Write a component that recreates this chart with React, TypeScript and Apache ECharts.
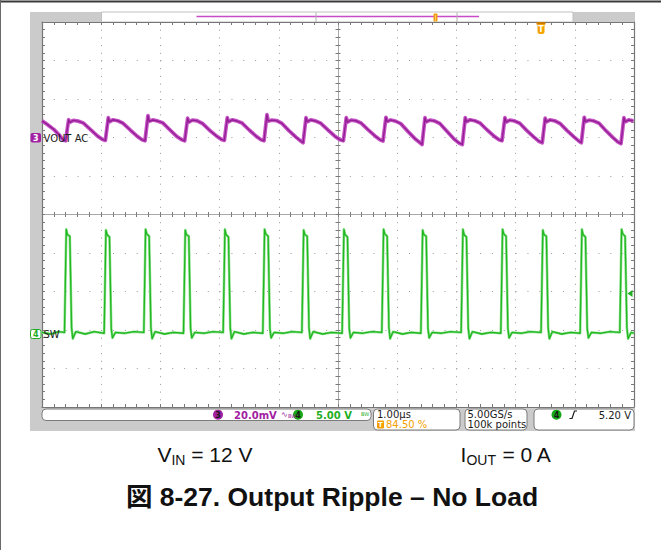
import React, { useEffect, useRef } from "react";
import * as echarts from "echarts";

// ---- Channel 4 (SW node), [time µs from screen centre, volts] ----
const ch4Sw: [number, number][] = [
  [-5.0, 0.2], [-4.85, 0.0], [-4.72, 0.3],
  [-4.62, 0.2], [-4.59, 13.6], [-4.57, 12.9], [-4.53, 12.7], [-4.5, 0.8], [-4.48, -0.6], [-4.43, 0.3], [-4.27, 0.0], [-4.12, 0.3],
  [-3.95, 0.1], [-3.92, 13.5], [-3.9, 12.9], [-3.86, 12.6], [-3.83, 0.7], [-3.81, -0.5], [-3.76, 0.2], [-3.6, 0.1], [-3.45, 0.3],
  [-3.28, 0.2], [-3.25, 13.6], [-3.23, 13.0], [-3.19, 12.7], [-3.16, 0.8], [-3.14, -0.6], [-3.09, 0.3], [-2.93, 0.0], [-2.78, 0.2],
  [-2.61, 0.1], [-2.58, 13.5], [-2.56, 12.9], [-2.52, 12.7], [-2.49, 0.7], [-2.47, -0.5], [-2.42, 0.2], [-2.26, 0.1], [-2.11, 0.3],
  [-1.94, 0.2], [-1.91, 13.6], [-1.89, 12.9], [-1.85, 12.6], [-1.82, 0.8], [-1.8, -0.6], [-1.75, 0.3], [-1.59, 0.0], [-1.44, 0.2],
  [-1.27, 0.1], [-1.24, 13.6], [-1.22, 13.0], [-1.18, 12.7], [-1.15, 0.7], [-1.13, -0.5], [-1.08, 0.2], [-0.92, 0.1], [-0.77, 0.3],
  [-0.61, 0.2], [-0.58, 13.5], [-0.56, 12.9], [-0.52, 12.7], [-0.49, 0.8], [-0.47, -0.6], [-0.42, 0.3], [-0.26, 0.0], [-0.11, 0.2],
  [0.07, 0.1], [0.1, 13.6], [0.12, 12.9], [0.16, 12.6], [0.19, 0.7], [0.21, -0.5], [0.26, 0.2], [0.42, 0.1], [0.57, 0.3],
  [0.74, 0.2], [0.77, 13.6], [0.79, 13.0], [0.83, 12.7], [0.86, 0.8], [0.88, -0.6], [0.93, 0.3], [1.09, 0.0], [1.24, 0.2],
  [1.4, 0.1], [1.43, 13.5], [1.45, 12.9], [1.49, 12.7], [1.52, 0.7], [1.54, -0.5], [1.59, 0.2], [1.75, 0.1], [1.9, 0.3],
  [2.08, 0.2], [2.11, 13.6], [2.13, 12.9], [2.17, 12.6], [2.2, 0.8], [2.22, -0.6], [2.27, 0.3], [2.43, 0.0], [2.58, 0.2],
  [2.75, 0.1], [2.78, 13.6], [2.8, 13.0], [2.84, 12.7], [2.87, 0.7], [2.89, -0.5], [2.94, 0.2], [3.1, 0.1], [3.25, 0.3],
  [3.43, 0.2], [3.46, 13.5], [3.48, 12.9], [3.52, 12.7], [3.55, 0.8], [3.57, -0.6], [3.62, 0.3], [3.78, 0.0], [3.93, 0.2],
  [4.09, 0.1], [4.12, 13.6], [4.14, 12.9], [4.18, 12.6], [4.21, 0.7], [4.23, -0.5], [4.28, 0.2], [4.44, 0.1], [4.59, 0.3],
  [4.76, 0.2], [4.79, 13.6], [4.81, 13.0], [4.85, 12.7], [4.88, 0.8], [4.9, -0.6], [4.95, 0.2], [5.0, 0.1],
];

// ---- Channel 3 (VOUT AC), [time µs from screen centre, millivolts] ----
const ch3VoutAc: [number, number][] = [
  [-5.0, 8.6], [-4.93, 7.2], [-4.8, 4.2], [-4.7, 1.0], [-4.64, -1.4],
  [-4.6, -1.7], [-4.575, 4.0], [-4.55, 9.2], [-4.53, 7.9], [-4.47, 8.9], [-4.39, 8.5], [-4.3, 7.5], [-4.18, 4.1], [-4.06, 0.7], [-3.98, -1.0],
  [-3.93, -1.5], [-3.905, 4.4], [-3.88, 10.3], [-3.86, 8.2], [-3.8, 9.2], [-3.72, 8.7], [-3.63, 7.4], [-3.51, 3.9], [-3.39, 0.6], [-3.31, -1.2],
  [-3.26, -1.7], [-3.235, 4.8], [-3.21, 11.3], [-3.19, 8.4], [-3.13, 9.1], [-3.05, 8.6], [-2.96, 7.6], [-2.84, 4.0], [-2.72, 0.5], [-2.64, -1.1],
  [-2.59, -1.7], [-2.565, 4.2], [-2.54, 10.0], [-2.52, 8.0], [-2.46, 9.0], [-2.38, 8.7], [-2.29, 7.3], [-2.17, 3.8], [-2.05, 0.7], [-1.97, -1.0],
  [-1.92, -1.5], [-1.895, 4.4], [-1.87, 10.3], [-1.85, 8.1], [-1.79, 9.2], [-1.71, 8.6], [-1.62, 7.5], [-1.5, 3.9], [-1.38, 0.6], [-1.3, -1.2],
  [-1.25, -1.7], [-1.225, 5.0], [-1.2, 11.9], [-1.18, 8.5], [-1.12, 9.0], [-1.04, 8.8], [-0.95, 7.4], [-0.83, 3.6], [-0.71, 0.2], [-0.63, -1.8],
  [-0.59, -2.7], [-0.565, 3.8], [-0.54, 10.3], [-0.52, 8.2], [-0.46, 9.1], [-0.38, 8.6], [-0.29, 7.4], [-0.17, 3.9], [-0.05, 0.6], [0.03, -1.1],
  [0.09, -1.7], [0.115, 4.3], [0.14, 10.3], [0.16, 8.0], [0.22, 9.0], [0.3, 8.7], [0.39, 7.5], [0.51, 4.0], [0.63, 0.7], [0.71, -1.2],
  [0.76, -1.8], [0.785, 4.4], [0.81, 10.5], [0.83, 8.3], [0.89, 9.1], [0.97, 8.5], [1.06, 7.2], [1.18, 3.2], [1.3, -0.6], [1.38, -2.6],
  [1.42, -3.6], [1.445, 3.4], [1.47, 10.3], [1.49, 8.1], [1.55, 9.0], [1.63, 8.6], [1.72, 7.3], [1.84, 3.2], [1.96, -0.8], [2.04, -2.8],
  [2.1, -3.6], [2.125, 3.4], [2.15, 10.3], [2.17, 8.2], [2.23, 9.2], [2.31, 8.7], [2.4, 7.5], [2.52, 3.9], [2.64, 0.6], [2.72, -1.2],
  [2.77, -1.7], [2.795, 4.3], [2.82, 10.3], [2.84, 8.0], [2.9, 9.0], [2.98, 8.6], [3.07, 7.4], [3.19, 3.6], [3.31, 0.2], [3.39, -1.9],
  [3.45, -2.7], [3.475, 3.7], [3.5, 10.0], [3.52, 8.1], [3.58, 9.1], [3.66, 8.7], [3.75, 7.3], [3.87, 3.6], [3.99, 0.2], [4.07, -1.9],
  [4.11, -2.7], [4.135, 3.9], [4.16, 10.5], [4.18, 8.2], [4.24, 9.0], [4.32, 8.6], [4.41, 7.4], [4.53, 3.4], [4.65, -0.2], [4.73, -2.4],
  [4.78, -3.2], [4.805, 3.6], [4.83, 10.3], [4.85, 8.1], [4.91, 9.1], [4.99, 8.7], [5.0, 8.6],
];

// ---- scope settings (texts) ----
const ch3Name = "VOUT AC";
const ch4Name = "SW";
const ch3Scale = "20.0mV";
const ch4Scale = "5.00 V";
const timeBase = "1.00µs";
const triggerPos = "84.50 %";
const sampleRate = "5.00GS/s";
const recordLength = "100k points";
const triggerLevel = "5.20 V";
const captionVin = ["V", "IN", " = 12 V"];
const captionIout = ["I", "OUT", " = 0 A"];
const figureTitle = "図 8-27. Output Ripple – No Load";

// axis ranges (screen = 10 x 10 divisions)
const timeRange = [-5, 5]; // µs, 1 µs/div
const divRange = [-5, 5];
const ch3Range = [-140, 60]; // mV, 20 mV/div
const ch4Range = [-9.48, 40.52]; // V, 5 V/div

const SCOPE_FONT = '"DejaVu Sans", sans-serif';
const CAP_FONT = '"Liberation Sans", Arial, "Noto Sans CJK JP", sans-serif';
const C3 = "#a221a2";
const C4 = "#1fae1f";
const ORANGE = "#f2a000";

export default function App() {
  const ref = useRef<HTMLDivElement>(null);
  useEffect(() => {
    if (!ref.current) return;
    const chart = echarts.init(ref.current, undefined, { renderer: "svg" });

    const frame = "#767676";
    const tickC = "#7a7a7a";
    const centerC = "#a8a8a8";

    const borderX = (pos: string, withSplit: boolean) => ({
      type: "value", min: timeRange[0], max: timeRange[1], interval: 1, position: pos,
      axisLine: { show: true, onZero: false, lineStyle: { color: frame, width: 1.2 } },
      axisTick: { show: true, inside: true, length: 3, lineStyle: { color: tickC } },
      minorTick: { show: true, splitNumber: 5, length: 3, lineStyle: { color: tickC } },
      axisLabel: { show: false },
      splitLine: withSplit
        ? { show: true, lineStyle: { color: "#9a9a9a", width: 1, type: [1, 6.7] } }
        : { show: false },
    });
    const centerX = (pos: string) => ({
      type: "value", min: timeRange[0], max: timeRange[1], interval: 1, position: pos,
      axisLine: { show: true, onZero: true, onZeroAxisIndex: 0, lineStyle: { color: centerC, width: 1 } },
      axisTick: { show: true, inside: false, length: 2.5, lineStyle: { color: tickC } },
      minorTick: { show: true, splitNumber: 5, length: 2.5, lineStyle: { color: tickC } },
      axisLabel: { show: false },
      splitLine: { show: false },
    });
    const borderY = (pos: string, withSplit: boolean) => ({
      type: "value", min: divRange[0], max: divRange[1], interval: 1, position: pos,
      axisLine: { show: true, onZero: false, lineStyle: { color: frame, width: 1.2 } },
      axisTick: { show: true, inside: true, length: 3, lineStyle: { color: tickC } },
      minorTick: { show: true, splitNumber: 5, length: 3, lineStyle: { color: tickC } },
      axisLabel: { show: false },
      splitLine: withSplit
        ? { show: true, lineStyle: { color: "#9a9a9a", width: 1, type: [1, 10.84] } }
        : { show: false },
    });
    const centerY = (pos: string) => ({
      type: "value", min: divRange[0], max: divRange[1], interval: 1, position: pos,
      axisLine: { show: true, onZero: true, onZeroAxisIndex: 0, lineStyle: { color: centerC, width: 1 } },
      axisTick: { show: true, inside: false, length: 2.5, lineStyle: { color: tickC } },
      minorTick: { show: true, splitNumber: 5, length: 2.5, lineStyle: { color: tickC } },
      axisLabel: { show: false },
      splitLine: { show: false },
    });

    const txt = (x: number, y: number, text: string, fill: string, size = 10, align = "left", extra: any = {}) => ({
      type: "text", x, y, z: 30,
      style: {
        text, fill, font: `${size}px ${SCOPE_FONT}`,
        textAlign: align, textVerticalAlign: "middle", ...extra,
      },
    });

    const graphic: any[] = [
      // page frame
      { type: "line", z: 40, shape: { x1: 0, y1: 1.5, x2: 661, y2: 1.5 }, style: { stroke: "#3a3a3a", lineWidth: 2 } },
      { type: "line", z: 40, shape: { x1: 0.5, y1: 0, x2: 0.5, y2: 550 }, style: { stroke: "#6a6a6a", lineWidth: 1 } },
      // scope grey surround
      { type: "rect", z: -20, shape: { x: 30, y: 12, width: 605, height: 419 }, style: { fill: "#cbcbcb" } },
      // record view bar
      { type: "rect", z: -15, shape: { x: 101.5, y: 12, width: 471.5, height: 10 }, style: { fill: "#ffffff", stroke: "#c0c0c0", lineWidth: 1 } },
      { type: "line", z: 10, shape: { x1: 196.5, y1: 16.5, x2: 479, y2: 16.5 }, style: { stroke: "#c84ac8", lineWidth: 1.6 } },
      { type: "line", z: 10, shape: { x1: 316, y1: 12.5, x2: 316, y2: 22 }, style: { stroke: "#b0b0b0", lineWidth: 1 } },
      { type: "line", z: 10, shape: { x1: 457, y1: 12.5, x2: 457, y2: 22 }, style: { stroke: "#b0b0b0", lineWidth: 1 } },
      { type: "rect", z: 11, shape: { x: 433.5, y: 13.5, width: 4, height: 8, r: 1 }, style: { fill: "#f39c12" } },
      { type: "line", z: 12, shape: { x1: 435.5, y1: 15, x2: 435.5, y2: 21 }, style: { stroke: "#ffd27a", lineWidth: 0.8 } },
      // trigger position marker
      { type: "rect", z: 20, shape: { x: 536.5, y: 22, width: 9, height: 2.5 }, style: { fill: "#c97a00" } },
      { type: "rect", z: 20, shape: { x: 537.5, y: 24, width: 7, height: 10, r: [0, 0, 2.5, 2.5] }, style: { fill: "#f5a300" } },
      txt(541, 29.5, "T", "#ffffff", 8, "center", { font: `bold 8px ${SCOPE_FONT}` }),
      // channel 3 ground marker + label
      { type: "rect", z: 20, shape: { x: 30.5, y: 133, width: 10.5, height: 9.5, r: 2 }, style: { fill: C3 } },
      txt(35.7, 138, "3", "#ffffff", 8, "center", { font: `bold 8px ${SCOPE_FONT}` }),
      txt(43.5, 138, ch3Name, "#1a1a1a", 10),
      // channel 4 ground marker + label
      { type: "rect", z: 20, shape: { x: 30.5, y: 329.5, width: 10.5, height: 9, r: 2 }, style: { fill: "#ffffff", stroke: C4, lineWidth: 1 } },
      txt(35.7, 334.2, "4", C4, 8, "center", { font: `bold 8px ${SCOPE_FONT}` }),
      txt(43.5, 334.2, ch4Name, "#1a1a1a", 10),
      // trigger level marker (right edge)
      { type: "polygon", z: 20, shape: { points: [[627.5, 293.5], [632.5, 290], [632.5, 297]] }, style: { fill: C4 } },
      // bottom readout boxes
      { type: "rect", z: 5, shape: { x: 42, y: 409, width: 329, height: 11.5, r: 4 }, style: { fill: "#ffffff", stroke: "#7c7c7c", lineWidth: 1 } },
      { type: "circle", z: 20, shape: { cx: 218, cy: 414.7, r: 5 }, style: { fill: C3 } },
      txt(218, 415, "3", "#1a1a1a", 8, "center", { font: `bold 8px ${SCOPE_FONT}` }),
      txt(234, 415, ch3Scale, C3, 10, "left", { font: `bold 10px ${SCOPE_FONT}` }),
      txt(281, 414, "∿", C3, 8),
      txt(288, 416, "BW", C3, 5),
      { type: "circle", z: 20, shape: { cx: 298, cy: 414.7, r: 5 }, style: { fill: "#16a816" } },
      txt(298, 415, "4", "#1a1a1a", 8, "center", { font: `bold 8px ${SCOPE_FONT}` }),
      txt(316, 415, ch4Scale, C4, 10, "left", { font: `bold 10px ${SCOPE_FONT}` }),
      txt(361, 414, "BW", C4, 5),
      { type: "rect", z: 5, shape: { x: 373.5, y: 409, width: 86.5, height: 21, r: 4 }, style: { fill: "#ffffff", stroke: "#7c7c7c", lineWidth: 1 } },
      txt(377, 414.5, timeBase, "#1a1a1a", 10),
      { type: "rect", z: 20, shape: { x: 377, y: 420.5, width: 7, height: 8, r: 1 }, style: { fill: ORANGE } },
      txt(380.5, 424.7, "T", "#ffffff", 7, "center", { font: `bold 7px ${SCOPE_FONT}` }),
      txt(386, 424.7, triggerPos, ORANGE, 10),
      { type: "rect", z: 5, shape: { x: 465, y: 409, width: 62, height: 21, r: 4 }, style: { fill: "#ffffff", stroke: "#7c7c7c", lineWidth: 1 } },
      txt(467.5, 414.5, sampleRate, "#1a1a1a", 10),
      txt(467.5, 424.7, recordLength, "#1a1a1a", 10),
      { type: "rect", z: 5, shape: { x: 534, y: 409, width: 100, height: 21, r: 4 }, style: { fill: "#ffffff", stroke: "#7c7c7c", lineWidth: 1 } },
      { type: "circle", z: 20, shape: { cx: 556.5, cy: 414.7, r: 5 }, style: { fill: "#16a816" } },
      txt(556.5, 415, "4", "#1a1a1a", 8, "center", { font: `bold 8px ${SCOPE_FONT}` }),
      { type: "polyline", z: 20, shape: { points: [[569.5, 418.5], [572, 418.5], [574.5, 411], [577, 411]] }, style: { stroke: "#1a1a1a", lineWidth: 1.2, fill: "none" } },
      txt(631, 415, triggerLevel, "#1a1a1a", 10, "right"),
      // captions
      {
        type: "text", x: 205, y: 454, z: 30,
        style: {
          text: `{a|${captionVin[0]}}{b|${captionVin[1]}}{a|${captionVin[2]}}`,
          textAlign: "center", textVerticalAlign: "middle",
          rich: {
            a: { fontSize: 21, fontFamily: CAP_FONT, fill: "#111", lineHeight: 26 },
            b: { fontSize: 14, fontFamily: CAP_FONT, fill: "#111", lineHeight: 12, verticalAlign: "bottom" },
          },
        },
      },
      {
        type: "text", x: 506, y: 454, z: 30,
        style: {
          text: `{a|${captionIout[0]}}{b|${captionIout[1]}}{a|${captionIout[2]}}`,
          textAlign: "center", textVerticalAlign: "middle",
          rich: {
            a: { fontSize: 21, fontFamily: CAP_FONT, fill: "#111", lineHeight: 26 },
            b: { fontSize: 14, fontFamily: CAP_FONT, fill: "#111", lineHeight: 12, verticalAlign: "bottom" },
          },
        },
      },
      {
        type: "text", x: 332, y: 497, z: 30,
        style: {
          text: figureTitle, fill: "#111", font: `bold 26.5px ${CAP_FONT}`,
          textAlign: "center", textVerticalAlign: "middle",
        },
      },
    ];

    const lineSeries = (data: [number, number][], yIdx: number, color: string, width: number, z: number) => ({
      type: "line", xAxisIndex: 0, yAxisIndex: yIdx, data,
      showSymbol: false, symbol: "none", smooth: false, silent: true, z,
      lineStyle: { color, width, join: "round" },
      emphasis: { disabled: true },
    });

    chart.setOption({
      animation: false,
      backgroundColor: "#ffffff",
      grid: { left: 42, top: 22, width: 592, height: 385, show: true, backgroundColor: "#ffffff", borderWidth: 0 },
      xAxis: [
        borderX("bottom", true),
        borderX("top", false),
        centerX("bottom"),
        centerX("top"),
      ],
      yAxis: [
        borderY("left", true),
        borderY("right", false),
        centerY("left"),
        centerY("right"),
        { type: "value", min: ch3Range[0], max: ch3Range[1], show: false, splitLine: { show: false } },
        { type: "value", min: ch4Range[0], max: ch4Range[1], show: false, splitLine: { show: false } },
      ],
      graphic,
      series: [
        lineSeries(ch4Sw, 5, "#8ee08e", 2.6, 3),
        lineSeries(ch4Sw, 5, "#22b822", 1.3, 4),
        lineSeries(ch3VoutAc, 4, "#c653c6", 3.8, 5),
        lineSeries(ch3VoutAc, 4, "#931e93", 1.4, 6),
      ],
    } as any);

    return () => chart.dispose();
  }, []);

  return (
    <div style={{ position: "fixed", left: 0, top: 0, width: 661, height: 550, background: "#ffffff" }}>
      <div ref={ref} style={{ width: 661, height: 550 }} />
    </div>
  );
}
